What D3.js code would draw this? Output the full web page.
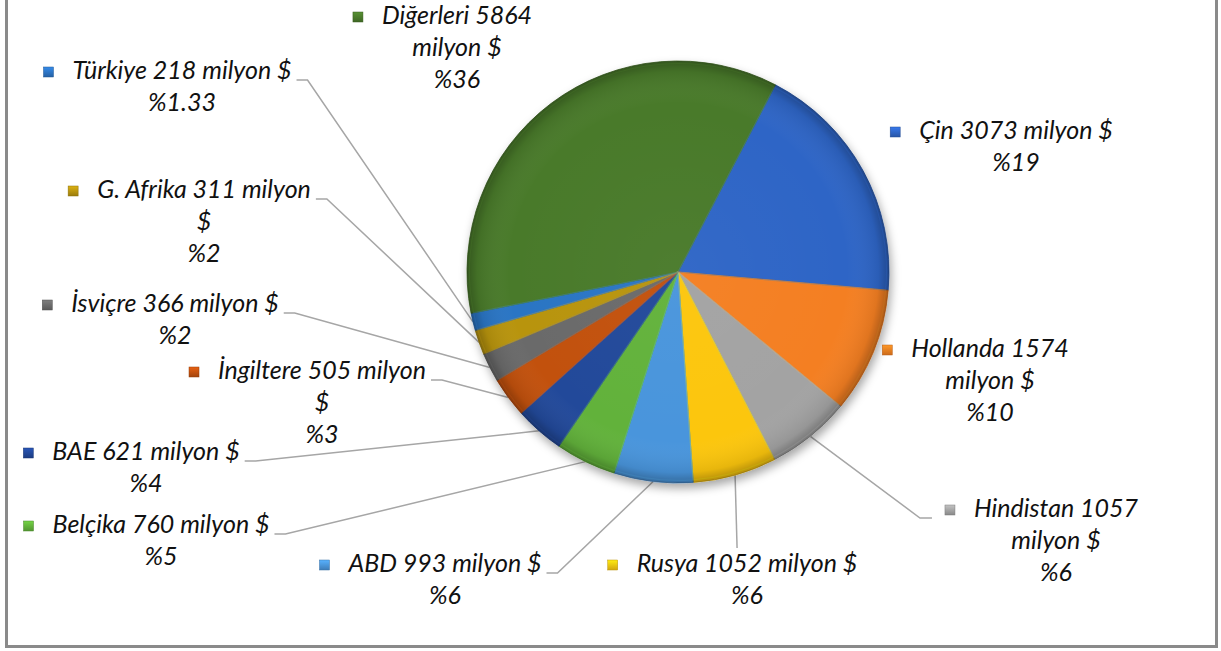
<!DOCTYPE html>
<html>
<head>
<meta charset="utf-8">
<script src="https://cdn.jsdelivr.net/npm/d3@7/dist/d3.min.js"></script>
<style>
  html, body { margin: 0; padding: 0; background: #fff; }
  svg { display: block; }
  text { font-family: Lato, "Open Sans", sans-serif; font-style: italic; fill: #111; }
</style>
</head>
<body>
<svg id="chart" width="1221" height="651"></svg>
<script>
// ---- data ----
const categories = ["Çin", "Hollanda", "Hindistan", "Rusya", "ABD", "Belçika", "BAE", "İngiltere", "İsviçre", "G. Afrika", "Türkiye", "Diğerleri"];
const values = [3073, 1574, 1057, 1052, 993, 760, 621, 505, 366, 311, 218, 5864];
const percentLabels = ["%19", "%10", "%6", "%6", "%6", "%5", "%4", "%3", "%2", "%2", "%1.33", "%36"];
const unitLabel = "milyon $";

// ---- styles / layout ----
const colors = ["#2F65C6", "#F47F20", "#A3A3A3", "#FCC60F", "#4A95DC", "#62B23A",
                "#22489A", "#C2510F", "#6B6B6B", "#B8940F", "#2C74C4", "#4A7A2B"];
// label layout: text centre x, first-line baseline y, wrap mode, leader type
// wrap: 0 none, 1 break before "milyon", 2 break before "$"
const labelLayout = [
  {cx: 1016, y: 139, wrap: 0, leader: "none"},
  {cx: 990,  y: 357, wrap: 1, leader: "none"},
  {cx: 1056, y: 517, wrap: 1, leader: "right"},
  {cx: 747,  y: 572, wrap: 0, leader: "top"},
  {cx: 445,  y: 572, wrap: 0, leader: "left"},
  {cx: 161,  y: 533, wrap: 0, leader: "left"},
  {cx: 146,  y: 460, wrap: 0, leader: "left"},
  {cx: 322,  y: 379, wrap: 2, leader: "left"},
  {cx: 175,  y: 312, wrap: 0, leader: "left"},
  {cx: 204,  y: 198, wrap: 2, leader: "left"},
  {cx: 182,  y: 79,  wrap: 0, leader: "left"},
  {cx: 457,  y: 24,  wrap: 1, leader: "none"}
];
const fontSize = 25;
const lineHeight = 32;
const startDeg = 27.5;
const center = [678, 272];
const radius = 211;

const svg = d3.select("#chart");
const defs = svg.append("defs");

// frame
svg.append("rect")
  .attr("x", 6.5).attr("y", -10).attr("width", 1210).attr("height", 656.5)
  .attr("fill", "#fff").attr("stroke", "#8a8a8a").attr("stroke-width", 3);

// filters & gradients
const f = defs.append("filter").attr("id", "shadow").attr("x", "-20%").attr("y", "-20%").attr("width", "140%").attr("height", "140%");
f.append("feDropShadow").attr("dx", 2).attr("dy", 5).attr("stdDeviation", 5)
  .attr("flood-color", "#000").attr("flood-opacity", 0.35);

const rim = defs.append("radialGradient").attr("id", "rim")
  .attr("gradientUnits", "userSpaceOnUse")
  .attr("cx", 0).attr("cy", 0).attr("r", radius);
rim.append("stop").attr("offset", "0%").attr("stop-color", "#fff").attr("stop-opacity", 0.03);
rim.append("stop").attr("offset", "80%").attr("stop-color", "#fff").attr("stop-opacity", 0);
rim.append("stop").attr("offset", "95%").attr("stop-color", "#000").attr("stop-opacity", 0.08);
rim.append("stop").attr("offset", "100%").attr("stop-color", "#000").attr("stop-opacity", 0.28);

colors.forEach((c, i) => {
  const g = defs.append("linearGradient").attr("id", "mk" + i)
    .attr("x1", 0).attr("y1", 0).attr("x2", 0).attr("y2", 1);
  g.append("stop").attr("offset", "0%").attr("stop-color", d3.color(c).brighter(0.5));
  g.append("stop").attr("offset", "100%").attr("stop-color", d3.color(c).darker(0.5));
});

// pie
const data = categories.map((c, i) => ({cat: c, value: values[i], pct: percentLabels[i], color: colors[i], layout: labelLayout[i], idx: i}));
const a0 = startDeg * Math.PI / 180;
const pie = d3.pie().value(d => d.value).sort(null).startAngle(a0).endAngle(a0 + 2 * Math.PI);
const arcs = pie(data);
const arc = d3.arc().innerRadius(0).outerRadius(radius);
const edgeArc = d3.arc().innerRadius(radius).outerRadius(radius);

const pg = svg.append("g").attr("transform", `translate(${center[0]},${center[1]})`);
const sliceG = pg.append("g").attr("filter", "url(#shadow)");
sliceG.selectAll("path.slice").data(arcs).join("path")
  .attr("class", "slice")
  .attr("d", arc)
  .attr("fill", d => d.data.color)
  .attr("stroke", d => d3.color(d.data.color).darker(0.7))
  .attr("stroke-width", 0.8)
  .attr("stroke-linejoin", "round");
// inner highlight along edges
pg.selectAll("path.hl").data(arcs).join("path")
  .attr("class", "hl")
  .attr("d", d3.arc().innerRadius(0).outerRadius(radius - 1.5))
  .attr("fill", "none")
  .attr("stroke", d => d3.color(d.data.color).brighter(0.6))
  .attr("stroke-opacity", 0.35)
  .attr("stroke-width", 1.2)
  .attr("transform", "scale(0.995)");
pg.append("circle").attr("r", radius).attr("fill", "url(#rim)").attr("pointer-events", "none");

// labels
const lg = svg.append("g");
arcs.forEach(d => {
  const L = d.data.layout;
  const full = `${d.data.cat} ${d.data.value} ${unitLabel}`;
  let lines;
  if (L.wrap === 1) lines = [`${d.data.cat} ${d.data.value}`, unitLabel, d.data.pct];
  else if (L.wrap === 2) lines = [`${d.data.cat} ${d.data.value} milyon`, "$", d.data.pct];
  else lines = [full, d.data.pct];

  const g = lg.append("g");
  const texts = lines.map((t, k) => g.append("text")
    .attr("x", L.cx).attr("y", L.y + k * lineHeight)
    .attr("text-anchor", "middle")
    .attr("font-size", fontSize)
    .text(t));
  const w = texts[0].node().getComputedTextLength();
  const left = L.cx - w / 2, right = L.cx + w / 2;
  // marker
  g.append("rect")
    .attr("x", left - 29).attr("y", L.y - 12).attr("width", 10).attr("height", 10)
    .attr("fill", `url(#mk${d.data.idx})`)
    .attr("stroke", d3.color(d.data.color).darker(0.8)).attr("stroke-width", 0.5);

  const p = edgeArc.centroid(d);
  const px = p[0] + center[0], py = p[1] + center[1];
  let pts = null;
  if (L.leader === "left") {
    pts = [[right + 5, L.y + 1], [right + 16, L.y + 1], [px, py]];
  } else if (L.leader === "right") {
    const mx = left - 29;
    pts = [[mx - 13, L.y + 1], [mx - 25, L.y + 1], [px, py]];
  } else if (L.leader === "top") {
    pts = [[px, py], [px + 2, L.y - 24]];
  }
  if (pts) {
    svg.insert("path", "g")
      .attr("d", d3.line()(pts))
      .attr("fill", "none").attr("stroke", "#a6a6a6").attr("stroke-width", 1.5);
  }
});
</script>
</body>
</html>
